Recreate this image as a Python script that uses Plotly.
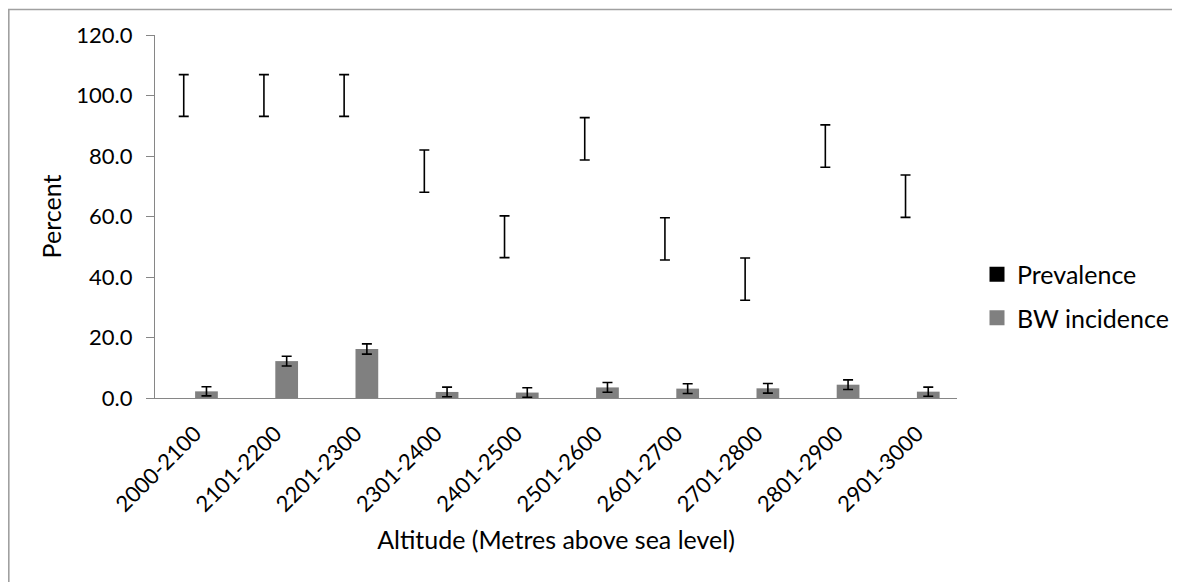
import plotly.graph_objects as go

categories = ['2000-2100', '2101-2200', '2201-2300', '2301-2400', '2401-2500',
              '2501-2600', '2601-2700', '2701-2800', '2801-2900', '2901-3000']
prevalence = [100.0, 100.0, 100.0, 75.0, 53.3, 85.7, 52.6, 39.3, 83.3, 66.7]
prevalence_err = [6.9, 6.9, 6.9, 7.0, 6.9, 7.0, 7.0, 7.0, 7.0, 7.0]
bw_incidence = [2.2, 12.2, 16.2, 2.0, 1.8, 3.5, 3.1, 3.2, 4.4, 2.1]
bw_err = [1.5, 1.6, 1.7, 1.6, 1.6, 1.6, 1.6, 1.6, 1.6, 1.5]
y_ticks = [0, 20, 40, 60, 80, 100, 120]

FONT = "Lato"
# page has an 8px body margin, so the figure is 8px smaller and shifted
W, H = 1172, 574
L, R, T, B = 147, 949, 27, 390

fig = go.Figure()
fig.add_trace(go.Bar(
    x=categories, y=prevalence, name="Prevalence", offsetgroup="a",
    marker=dict(color="rgba(0,0,0,0)", line=dict(width=0)),
    error_y=dict(type="data", array=prevalence_err, color="black", thickness=1.6, width=5),
    showlegend=False, hoverinfo="x+y",
))
fig.add_trace(go.Bar(
    x=categories, y=bw_incidence, name="BW incidence", offsetgroup="b",
    marker=dict(color="#808080", line=dict(width=0)),
    error_y=dict(type="data", array=bw_err, color="black", thickness=1.6, width=5),
    showlegend=False,
))
# legend entries with larger square swatches, as in the reference
fig.add_trace(go.Scatter(
    x=[None], y=[None], mode="markers", name="Prevalence",
    marker=dict(color="black", symbol="square", size=15, line=dict(width=0)),
    showlegend=True, legendgroup="g1", legendrank=1,
))
fig.add_trace(go.Scatter(
    x=[None], y=[None], mode="markers", name="BW incidence",
    marker=dict(color="#808080", symbol="square", size=15, line=dict(width=0)),
    showlegend=True, legendgroup="g2", legendrank=2,
))

fig.update_layout(
    width=W, height=H,
    margin=dict(l=L, r=W - R, t=T, b=H - B, autoexpand=False),
    paper_bgcolor="white", plot_bgcolor="white",
    barmode="group", bargap=0.433, bargroupgap=0,
    font=dict(family=FONT, size=22, color="black"),
    showlegend=True,
    legend=dict(
        x=(969 - L) / (R - L), xanchor="left",
        y=(B - 288) / (B - T), yanchor="middle",
        font=dict(family=FONT, size=25, color="black"),
        traceorder="grouped", tracegroupgap=8,
        bgcolor="rgba(0,0,0,0)",
    ),
    xaxis=dict(
        type="category", showline=True, linecolor="#868686", linewidth=1.3,
        ticks="", tickangle=-45, showgrid=False,
        ticklabelstandoff=13,
        tickfont=dict(family=FONT, size=22, color="black"),
        title=dict(text="Altitude (Metres above sea level)", standoff=15,
                   font=dict(family=FONT, size=25, color="black")),
    ),
    yaxis=dict(
        range=[0, 120], tickvals=y_ticks, tickformat=".1f",
        showline=True, linecolor="#868686", linewidth=1.3,
        ticks="outside", ticklen=8, tickcolor="#868686", tickwidth=1.3,
        showgrid=False, zeroline=False,
        ticklabelstandoff=9,
        tickfont=dict(family=FONT, size=22, color="black"),
        title=dict(text="Percent", standoff=7,
                   font=dict(family=FONT, size=25, color="black")),
    ),
    shapes=[dict(
        type="rect", xref="paper", yref="paper",
        x0=(0.8 - L) / (R - L), x1=(1190 - L) / (R - L),
        y0=(B - 600) / (B - T), y1=(B - 1.5) / (B - T),
        line=dict(color="#a0a0a0", width=1.6), fillcolor="rgba(0,0,0,0)",
        layer="below",
    )],
)

fig.write_html("out.html")
